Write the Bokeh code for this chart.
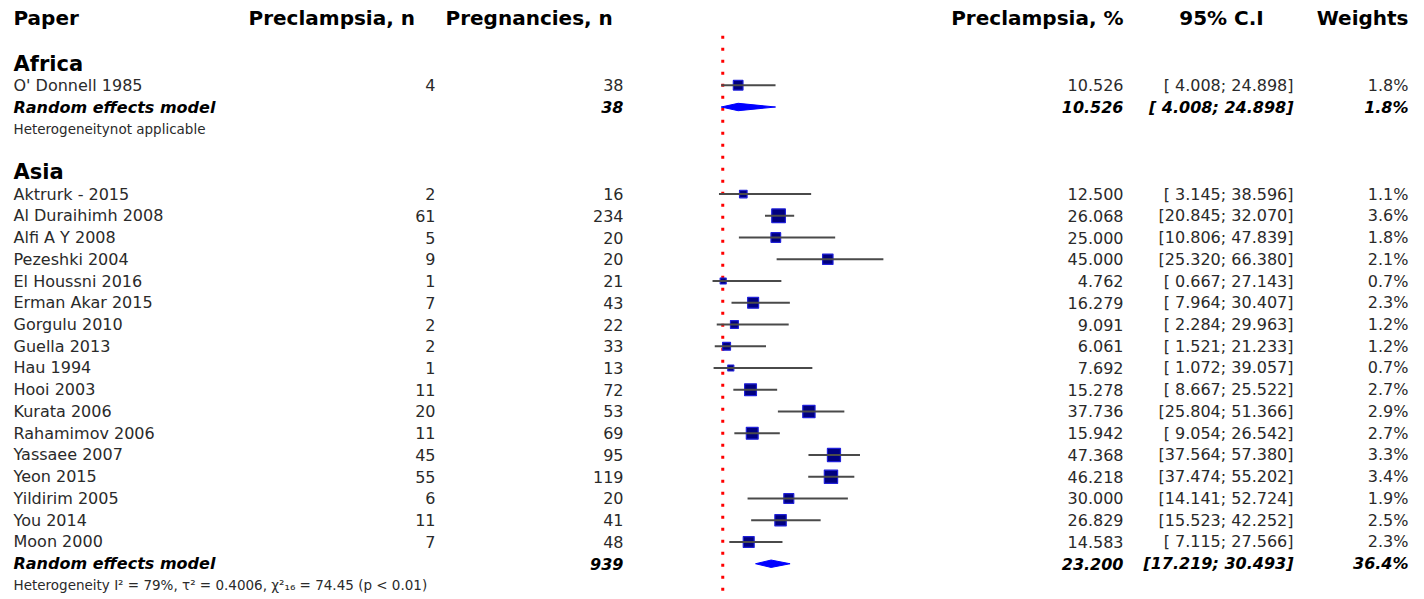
from bokeh.plotting import figure
from bokeh.models import Range1d, ColumnDataSource
from bokeh.embed import file_html
from bokeh.resources import INLINE
from bokeh.core.properties import value

# ---------------- data ----------------
africa_papers = ["O' Donnell 1985"]
africa_events = [4]
africa_total = [38]
africa_prop = [10.526]
africa_lo = [4.008]
africa_hi = [24.898]
africa_w = [1.8]
africa_re = [10.526, 4.008, 24.898]
africa_re_w = 1.8
africa_re_total = 38

asia_papers = ["Aktrurk - 2015", "Al Duraihimh 2008", "Alfi A Y 2008", "Pezeshki 2004",
               "El Houssni 2016", "Erman Akar 2015", "Gorgulu 2010", "Guella 2013",
               "Hau 1994", "Hooi 2003", "Kurata 2006", "Rahamimov 2006", "Yassaee 2007",
               "Yeon 2015", "Yildirim 2005", "You 2014", "Moon 2000"]
asia_events = [2, 61, 5, 9, 1, 7, 2, 2, 1, 11, 20, 11, 45, 55, 6, 11, 7]
asia_total = [16, 234, 20, 20, 21, 43, 22, 33, 13, 72, 53, 69, 95, 119, 20, 41, 48]
asia_prop = [12.500, 26.068, 25.000, 45.000, 4.762, 16.279, 9.091, 6.061, 7.692,
             15.278, 37.736, 15.942, 47.368, 46.218, 30.000, 26.829, 14.583]
asia_lo = [3.145, 20.845, 10.806, 25.320, 0.667, 7.964, 2.284, 1.521, 1.072,
           8.667, 25.804, 9.054, 37.564, 37.474, 14.141, 15.523, 7.115]
asia_hi = [38.596, 32.070, 47.839, 66.380, 27.143, 30.407, 29.963, 21.233, 39.057,
           25.522, 51.366, 26.542, 57.380, 55.202, 52.724, 42.252, 27.566]
asia_w = [1.1, 3.6, 1.8, 2.1, 0.7, 2.3, 1.2, 1.2, 0.7, 2.7, 2.9, 2.7, 3.3, 3.4, 1.9, 2.5, 2.3]
asia_re = [23.200, 17.219, 30.493]
asia_re_w = 36.4
asia_re_total = 939

ref_line = [4.6]

headers = ["Paper", "Preclampsia, n", "Pregnancies, n", "Preclampsia, %", "95% C.I", "Weights"]
het_africa = "Heterogeneitynot applicable"
het_asia = "Heterogeneity I\u00b2 = 79%, \u03c4\u00b2 = 0.4006, \u03c7\u00b2\u2081\u2086 = 74.45 (p < 0.01)"

# ---------------- layout helpers ----------------
FONT = value("DejaVu Sans")
DARK = "#2a2a2a"

africa_label_row = 0
africa_rows = [1]
africa_re_row = 2
africa_het_row = 3
asia_label_row = 5
asia_rows = list(range(6, 6 + len(asia_papers)))
asia_re_row = asia_rows[-1] + 1
asia_het_row = asia_re_row + 1
header_row = -2.1

W, H = 1424, 599
p = figure(width=W, height=H,
           x_range=Range1d(-273.19, 274.5), y_range=Range1d(24.644, -2.897),
           x_axis_type=None, y_axis_type=None,
           output_backend="svg", toolbar_location=None, min_border=0)
p.extra_x_ranges = {"px": Range1d(0, W)}
p.grid.visible = False
p.outline_line_color = None
p.background_fill_color = "white"

# reference dotted line
p.segment(x0=ref_line, y0=[-1.28], x1=ref_line, y1=[25.0],
          line_color="red", line_width=3, line_dash="3 9")

# study squares + CI
rows_all = africa_rows + asia_rows
prop_all = africa_prop + asia_prop
lo_all = africa_lo + asia_lo
hi_all = africa_hi + asia_hi
w_all = africa_w + asia_w
sizes = [7.2 * (w ** 0.5) for w in w_all]
src = ColumnDataSource(dict(y=rows_all, x=prop_all, lo=lo_all, hi=hi_all, s=sizes))
p.scatter(x="x", y="y", size="s", marker="square", source=src,
          fill_color="#000080", line_color="#2020d8", line_width=1.2)
p.segment(x0="lo", y0="y", x1="hi", y1="y", source=src,
          line_color="#4a4a4a", line_width=2.2)

# diamonds
h = 0.17
dxs, dys = [], []
for (est, lo, hi), r in ((africa_re, africa_re_row), (asia_re, asia_re_row)):
    dxs.append([lo, est, hi, est])
    dys.append([r, r - h, r, r + h])
p.patches(xs=dxs, ys=dys, fill_color="blue", line_color="blue", line_width=1)

# ---------------- texts ----------------
def txt(xs, ys, texts, align="left", size="16px", style="normal", color=DARK, yoff=0):
    p.text(x=xs, y=ys, text=texts, x_range_name="px", text_align=align,
           text_baseline="middle", text_font=FONT, text_font_size=size,
           text_font_style=style, text_color=color, y_offset=yoff)

# headers
txt([13, 248, 445], [header_row] * 3, headers[:3], size="20px", style="bold", color="black")
txt([1123], [header_row], [headers[3]], align="right", size="20px", style="bold", color="black")
txt([1221], [header_row], [headers[4]], align="center", size="20px", style="bold", color="black")
txt([1408], [header_row], [headers[5]], align="right", size="20px", style="bold", color="black")

# group labels
txt([13, 13], [africa_label_row, asia_label_row], ["Africa", "Asia"], size="21px",
    style="bold", color="black")

# study rows
papers_all = africa_papers + asia_papers
events_all = africa_events + asia_events
total_all = africa_total + asia_total
n = len(rows_all)
txt([13] * n, rows_all, papers_all)
txt([435] * n, rows_all, [str(v) for v in events_all], align="right")
txt([623] * n, rows_all, [str(v) for v in total_all], align="right")
txt([1123] * n, rows_all, [f"{v:.3f}" for v in prop_all], align="right")
txt([1293] * n, rows_all, [f"[{a:6.3f}; {b:6.3f}]" for a, b in zip(lo_all, hi_all)], align="right")
txt([1408] * n, rows_all, [f"{v:.1f}%" for v in w_all], align="right")

# random effects rows
re_rows = [africa_re_row, asia_re_row]
re_vals = [africa_re, asia_re]
txt([13, 13], re_rows, ["Random effects model"] * 2, style="bold italic", color="black")
txt([623, 623], re_rows, [str(africa_re_total), str(asia_re_total)], align="right",
    style="bold italic", color="black")
txt([1123, 1123], re_rows, [f"{v[0]:.3f}" for v in re_vals], align="right",
    style="bold italic", color="black")
txt([1293, 1293], re_rows, [f"[{v[1]:6.3f}; {v[2]:6.3f}]" for v in re_vals], align="right",
    style="bold italic", color="black")
txt([1408, 1408], re_rows, [f"{africa_re_w:.1f}%", f"{asia_re_w:.1f}%"], align="right",
    style="bold italic", color="black")

# heterogeneity
txt([13, 13], [africa_het_row, asia_het_row], [het_africa, het_asia], size="13.5px")

open("out.html", "w").write(file_html(p, INLINE))
